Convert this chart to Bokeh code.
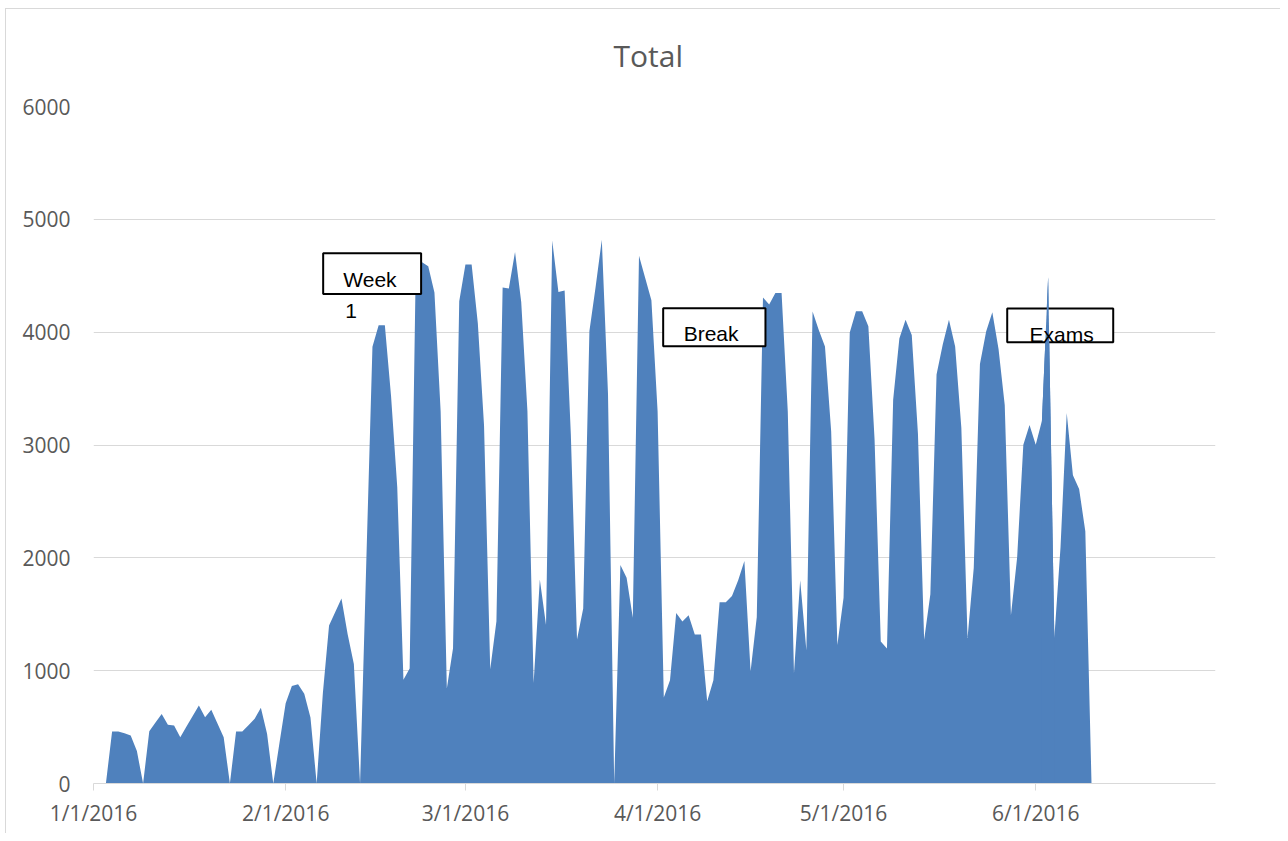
import pandas as pd
from bokeh.plotting import figure
from bokeh.models import ColumnDataSource, FixedTicker, Range1d, CustomJSTickFormatter
from bokeh.embed import file_html
from bokeh.resources import INLINE
from bokeh.core.properties import value

# ---------------- data ----------------
start_date = "2016-01-01"
totals = [
    0, 0, 0, 461, 461, 445, 426, 287, 0, 464,
    540, 617, 520, 514, 411, 505, 598, 691, 588, 653,
    532, 411, 0, 461, 461, 517, 573, 671, 440, 0,
    360, 712, 863, 880, 795, 584, 0, 800, 1401, 1520,
    1640, 1323, 1059, 0, 1950, 3870, 4062, 4062, 3435, 2627,
    919, 1019, 4615, 4620, 4584, 4351, 3300, 842, 1199, 4273,
    4599, 4599, 4080, 3174, 1013, 1437, 4395, 4386, 4711, 4267,
    3302, 891, 1807, 1405, 4813, 4357, 4370, 3100, 1277, 1550,
    4010, 4400, 4820, 3450, 0, 1936, 1823, 1469, 4678, 4480,
    4283, 3300, 762, 916, 1512, 1435, 1491, 1320, 1320, 730,
    916, 1606, 1606, 1661, 1801, 1972, 994, 1475, 4307, 4245,
    4348, 4348, 3300, 978, 1801, 1180, 4183, 4020, 3873, 3121,
    1227, 1646, 3997, 4186, 4186, 4053, 3050, 1258, 1196, 3401,
    3944, 4109, 3975, 3100, 1273, 1677, 3624, 3891, 4109, 3873,
    3152, 1289, 1910, 3717, 4006, 4177, 3850, 3354, 1491, 2003,
    3003, 3177, 3003, 3214, 4488, 1289, 2096, 3283, 2733, 2609,
    2236, 0,
]
tick_dates = ["2016-01-01", "2016-02-01", "2016-03-01", "2016-04-01", "2016-05-01", "2016-06-01"]
y_ticks = [0, 1000, 2000, 3000, 4000, 5000, 6000]
x_end_date = "2016-06-30"

note_texts = ["Week", "1", "Break", "Exams"]
# annotation placement (day offset from start, value)
note_text_day = [40.3, 40.6, 95.2, 151.0]
note_text_val = [4467, 4192, 3988, 3976]
box_left_day = [37.05, 91.9, 147.4]
box_right_day = [52.85, 108.4, 164.5]
box_bottom = [4338, 3876, 3911]
box_top = [4700, 4212, 4210]
spike_days = (153, 156)

# ---------------- build ----------------
t0 = pd.Timestamp(start_date)
dates = pd.date_range(start_date, periods=len(totals), freq="D")
src = ColumnDataSource(dict(date=dates, total=totals))

def d2t(d):
    return t0 + pd.Timedelta(days=d)

p = figure(width=1280, height=833, x_axis_type="datetime",
           output_backend="svg", toolbar_location=None,
           x_range=Range1d(t0, pd.Timestamp(x_end_date)),
           y_range=Range1d(0, 6000),
           min_border_left=93, min_border_right=65,
           min_border_top=106, min_border_bottom=50)
p.styles = {"background": "linear-gradient(#d9d9d9,#d9d9d9) 5px 8px / 1px 100% no-repeat, "
                          "linear-gradient(#d9d9d9,#d9d9d9) 5px 8px / 100% 1px no-repeat"}
p.border_fill_color = None
p.background_fill_color = "white"
p.outline_line_color = None

p.varea(x="date", y1=0, y2="total", source=src, fill_color="#4f81bd")

box_src = ColumnDataSource(dict(
    left=[d2t(d) for d in box_left_day],
    right=[d2t(d) for d in box_right_day],
    bottom=box_bottom, top=box_top))
p.quad(left="left", right="right", bottom="bottom", top="top", source=box_src,
       fill_color="white", line_color="black", line_width=2)

a, b = spike_days
spike_src = ColumnDataSource(dict(date=dates[a:b], total=totals[a:b]))
p.varea(x="date", y1=0, y2="total", source=spike_src, fill_color="#4f81bd")

txt_src = ColumnDataSource(dict(x=[d2t(d) for d in note_text_day], y=note_text_val, t=note_texts))
p.text(x="x", y="y", text="t", source=txt_src, text_align="left", text_baseline="alphabetic",
       text_font=value("Liberation Sans"), text_font_size="21px", text_color="black")

# title
p.title.text = "Total"
p.title.align = "left"
p.title.offset = 520
p.title.text_font = "Open Sans"
p.title.text_font_size = "30px"
p.title.text_font_style = "normal"
p.title.text_color = "#595959"
p.title.standoff = 61

# axes
tick_ms = [pd.Timestamp(d).value // 10**6 for d in tick_dates]
p.xaxis.ticker = FixedTicker(ticks=tick_ms)
p.xaxis.formatter = CustomJSTickFormatter(code="""
const d = new Date(tick);
return (d.getUTCMonth()+1) + "/" + d.getUTCDate() + "/" + d.getUTCFullYear();
""")
p.xaxis.axis_line_color = "#d9d9d9"
p.xaxis.major_tick_line_color = "#d9d9d9"
p.xaxis.major_tick_out = 7
p.xaxis.major_tick_in = 0
p.xaxis.minor_tick_line_color = None
p.xaxis.major_label_standoff = 8

p.yaxis.ticker = FixedTicker(ticks=y_ticks)
p.yaxis.axis_line_color = None
p.yaxis.major_tick_line_color = None
p.yaxis.minor_tick_line_color = None
p.yaxis.major_label_standoff = 17

for ax in (p.xaxis, p.yaxis):
    ax.major_label_text_font = "Open Sans"
    ax.major_label_text_font_size = "21px"
    ax.major_label_text_color = "#595959"

p.xgrid.grid_line_color = None
p.ygrid.ticker = FixedTicker(ticks=y_ticks)
p.ygrid.grid_line_color = "#d9d9d9"

open("out.html", "w").write(file_html(p, INLINE))
